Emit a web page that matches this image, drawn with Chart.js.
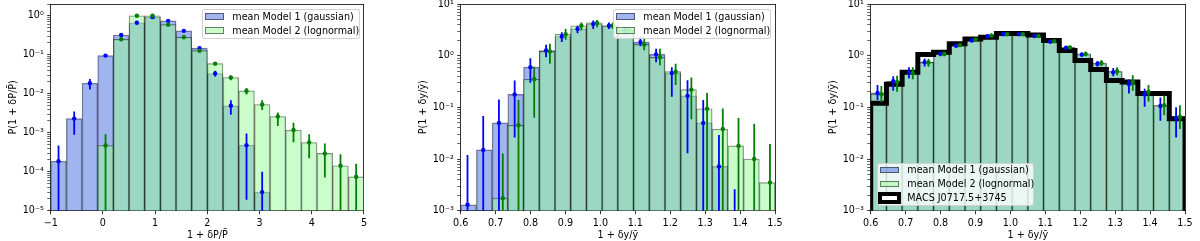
<!DOCTYPE html>
<html><head><meta charset="utf-8">
<script src="https://cdn.jsdelivr.net/npm/chart.js@4/dist/chart.umd.min.js"></script>
<style>
body{margin:0;background:#fff;width:1200px;height:241px;overflow:hidden;position:relative;font-family:'DejaVu Sans',sans-serif;}
canvas{position:absolute;left:0;top:0;}
.leg{position:absolute;background:rgba(255,255,255,0.8);border:1px solid rgba(204,204,204,0.9);border-radius:3px;box-sizing:border-box;}
.sw{position:absolute;box-sizing:border-box;border:1.5px solid rgba(0,0,0,0.5);}
.t{position:absolute;font-size:9.6px;line-height:14px;height:14px;white-space:nowrap;color:#000;}
</style></head><body>
<canvas id="k1" width="1200" height="241"></canvas>
<canvas id="k2" width="1200" height="241"></canvas>
<canvas id="k3" width="1200" height="241"></canvas>
<div id="legends"></div>
<script>
// ---------------- data ----------------
const BELOW = 1e-9; // lower end of an error bar that runs off the bottom of the axis

// Panel 1: 1 + dP/P
const p1Centers = [-0.85,-0.55,-0.25,0.05,0.35,0.65,0.95,1.25,1.55,1.85,2.15,2.45,2.75,3.05,3.35,3.65,3.95,4.25,4.55,4.85];
const p1Model1   = [1.85e-4,2.3e-3,0.0186,0.095,0.32,0.66,0.92,0.74,0.41,0.148,0.033,0.0049,4.8e-4,3.0e-5,null,null,null,null,null,null];
const p1Model1Lo = [BELOW,8.9e-4,0.0129,0.088,0.30,0.63,0.86,0.71,0.39,0.14,0.0275,2.9e-3,1.9e-5,BELOW,null,null,null,null,null,null];
const p1Model1Hi = [4.7e-4,3.5e-3,0.024,0.103,0.345,0.70,0.95,0.78,0.43,0.156,0.039,6.8e-3,9.5e-4,1.0e-4,null,null,null,null,null,null];
const p1Model2   = [null,null,null,4.7e-4,0.25,1.0,1.0,0.59,0.28,0.127,0.059,0.026,0.0118,0.0053,0.0026,0.00117,5.6e-4,2.95e-4,1.42e-4,7.4e-5];
const p1Model2Lo = [null,null,null,BELOW,0.235,0.95,0.95,0.57,0.27,0.122,0.055,0.022,0.0095,3.8e-3,1.48e-3,5.7e-4,2.2e-4,7.1e-5,BELOW,BELOW];
const p1Model2Hi = [null,null,null,9.2e-4,0.265,1.05,1.05,0.61,0.29,0.132,0.063,0.029,0.0141,6.8e-3,3.3e-3,1.8e-3,9.1e-4,5.3e-4,2.8e-4,1.6e-4];
const p1XTicks = [-1,0,1,2,3,4,5];

// Panel 2: 1 + dy/y (models)
const p2Centers = [0.6225,0.6675,0.7125,0.7575,0.8025,0.8475,0.8925,0.9375,0.9825,1.0275,1.0725,1.1175,1.1625,1.2075,1.2525,1.2975,1.3425,1.3875,1.4325,1.4775];
const p2Model1   = [1.3e-3,0.015,0.05,0.178,0.6,1.26,2.35,3.3,4.1,3.8,3.1,1.83,1.06,0.46,0.167,0.05,7.2e-3,null,null,null];
const p2Model1Lo = [BELOW,BELOW,BELOW,0.026,0.30,0.93,1.83,2.72,3.3,3.3,2.6,1.53,0.75,0.16,0.013,BELOW,BELOW,BELOW,null,null];
const p2Model1Hi = [0.012,0.068,0.142,0.33,0.89,1.63,2.85,3.8,4.8,4.4,3.6,2.28,1.36,0.60,0.335,0.138,0.0293,2.6e-3,null,null];
const p2Model2   = [null,null,1.75e-3,0.045,0.35,1.21,2.6,3.8,4.3,3.8,3.1,1.65,0.93,0.49,0.22,0.094,0.038,0.018,0.01,3.5e-3];
const p2Model2Lo = [null,null,BELOW,BELOW,0.063,0.70,2.03,3.06,3.55,3.3,2.6,1.27,0.65,0.27,0.059,BELOW,BELOW,BELOW,BELOW,BELOW];
const p2Model2Hi = [null,null,0.0128,0.138,0.61,1.7,3.3,4.4,4.9,4.4,3.6,2.2,1.36,0.70,0.38,0.19,0.095,0.062,0.048,0.0196];

// Panel 3: 1 + dy/y (models vs MACS J0717.5+3745)
const p3Centers = p2Centers;
const p3Edges = [0.6,0.645,0.69,0.735,0.78,0.825,0.87,0.915,0.96,1.005,1.05,1.095,1.14,1.185,1.23,1.275,1.32,1.365,1.41,1.455,1.5];
const p3Model1   = [0.19,0.32,0.47,0.75,1.09,1.56,1.97,2.38,2.6,2.6,2.4,1.86,1.42,1.05,0.70,0.48,0.28,0.178,0.106,0.062];
const p3Model1Lo = [0.138,0.21,0.36,0.62,0.98,1.45,1.88,2.28,2.5,2.5,2.28,1.75,1.32,0.95,0.62,0.40,0.186,0.103,0.055,0.026];
const p3Model1Hi = [0.27,0.40,0.60,0.88,1.2,1.68,2.07,2.48,2.7,2.7,2.52,1.97,1.52,1.15,0.79,0.58,0.345,0.23,0.155,0.10];
const p3Model2   = [0.18,0.31,0.46,0.74,1.08,1.6,2.05,2.45,2.6,2.6,2.4,1.9,1.45,1.08,0.72,0.5,0.31,0.2,0.11,0.066];
const p3Model2Lo = [0.125,0.2,0.35,0.61,0.97,1.48,1.95,2.34,2.5,2.5,2.28,1.78,1.34,0.97,0.63,0.42,0.21,0.13,0.07,0.038];
const p3Model2Hi = [0.26,0.41,0.6,0.87,1.19,1.72,2.15,2.56,2.7,2.7,2.52,2.02,1.56,1.19,0.82,0.6,0.42,0.27,0.17,0.11];
const p3Macs     = [0.12,0.28,0.48,1.05,1.17,1.70,2.1,2.28,2.7,2.7,2.5,1.97,1.26,0.81,0.54,0.33,0.31,0.186,0.186,0.06];
const yXTicks = [0.6,0.7,0.8,0.9,1.0,1.1,1.2,1.3,1.4,1.5];

const label1 = 'mean Model 1 (gaussian)';
const label2 = 'mean Model 2 (lognormal)';
const label3 = 'MACS J0717.5+3745';

// ---------------- styles ----------------
const BLUE_FILL = 'rgba(65,105,225,0.5)';
const GREEN_FILL = 'rgba(152,251,152,0.5)';
const EDGE = 'rgba(0,0,0,0.5)';
const FONT_SIZE = 9.6;
const Y_AXIS_W = 50, X_AXIS_H = 30.3, PLOT_TOP = 3.5;

Chart.defaults.font.family = "'DejaVu Sans'";
Chart.defaults.font.size = FONT_SIZE;
Chart.defaults.color = '#000';

const SUP = {'-':'\u207B','0':'\u2070','1':'\u00B9','2':'\u00B2','3':'\u00B3','4':'\u2074','5':'\u2075','6':'\u2076','7':'\u2077','8':'\u2078','9':'\u2079'};
const decadeLabel = v => { const e = Math.round(Math.log10(v)); return '10' + String(e).split('').map(c=>SUP[c]).join(''); };
function logTicks(min, max){
  const out = [];
  for (let e = Math.floor(Math.log10(min)); e <= Math.ceil(Math.log10(max)); e++)
    for (let m = 1; m <= 9; m++){ const v = m*Math.pow(10,e); if (v >= min*(1-1e-9) && v <= max*(1+1e-9)) out.push({value:v, major:m===1}); }
  return out;
}
const barData = (xs, ys) => xs.map((x,i)=>({x, y: ys[i]}));
const ptData = (xs, ys, dx) => xs.map((x,i)=>({x:x+dx, y: ys[i]})).filter(p=>p.y!=null);
function errData(xs, lo, hi, dx){
  const out = [];
  xs.forEach((x,i)=>{ if (lo[i]==null || hi[i]==null) return; out.push({x:x+dx,y:lo[i]},{x:x+dx,y:hi[i]},{x:x+dx,y:null}); });
  return out;
}
function stepData(edges, vals){
  const out = [{x:edges[0], y:BELOW}];
  vals.forEach((v,i)=>{ out.push({x:edges[i],y:v},{x:edges[i+1],y:v}); });
  out.push({x:edges[edges.length-1], y:BELOW});
  return out;
}
function barSet(xs, ys, fill, order){
  return {type:'bar', data:barData(xs,ys), backgroundColor:fill, borderColor:EDGE, borderWidth:0.75,
          borderSkipped:'start', grouped:false, barPercentage:1, categoryPercentage:1, order};
}
function errSet(xs, lo, hi, dx, color, order){
  return {type:'line', data:errData(xs,lo,hi,dx), borderColor:color, borderWidth:1.8, pointRadius:0,
          spanGaps:false, clip:0, order};
}
function ptSet(xs, ys, dx, color, order){
  return {type:'line', data:ptData(xs,ys,dx), showLine:false, pointRadius:2.2, pointBorderWidth:0,
          pointBackgroundColor:color, clip:0, order};
}

function makeChart(id, o){
  const gridOpt = {display:true, drawOnChartArea:false, offset:false, tickLength:3.5, tickColor:'#000',
                   tickWidth: c => (c.tick && c.tick.major === false) ? 0.6 : 0.8};
  const hidden = (pos, min, max, type) => ({type, position:pos, min, max, z:1,
      grid:{display:true, drawOnChartArea:false, drawTicks:false}, ticks:{display:false},
      border:{display:true, color:'#000', width:0.8},
      afterFit: s => { if (pos==='top') s.height = 0; else s.width = 0; s.paddingLeft=0; s.paddingRight=0; s.paddingTop=0; s.paddingBottom=0; }});
  return new Chart(document.getElementById(id), {
    type:'bar',
    data:{datasets:o.datasets},
    options:{
      responsive:false, animation:false, events:[], devicePixelRatio:1,
      layout:{padding:{left:o.plotLeft - Y_AXIS_W, right:1200 - o.plotRight, top:PLOT_TOP, bottom:0}},
      plugins:{legend:{display:false}, tooltip:{enabled:false}},
      scales:{
        x:{type:'linear', position:'bottom', min:o.xMin, max:o.xMax, offset:false, z:1, grid:gridOpt,
           border:{display:true, color:'#000', width:0.8},
           ticks:{autoSkip:false, maxRotation:0, padding:3.4, callback:o.xFmt},
           afterBuildTicks: s => { s.ticks = o.xTicks.map(v=>({value:v})); },
           afterFit: s => { s.height = X_AXIS_H; s.paddingLeft = 0; s.paddingRight = 0; },
           title:{display:true, text:o.xTitle, padding:{top:0,bottom:0}}},
        y:{type:'logarithmic', position:'left', min:o.yMin, max:o.yMax, z:1, grid:gridOpt,
           border:{display:true, color:'#000', width:0.8},
           ticks:{autoSkip:false, padding:3.4, callback:(v,i,t)=> t[i] && t[i].major ? decadeLabel(v) : ''},
           afterBuildTicks: s => { s.ticks = logTicks(o.yMin, o.yMax); },
           afterFit: s => { s.width = Y_AXIS_W; s.paddingTop = 0; s.paddingBottom = 0; },
           title:{display:true, text:o.yTitle, padding:{top:6.7,bottom:0}}},
        x2: hidden('top', o.xMin, o.xMax, 'linear'),
        y2: hidden('right', 0, 1, 'linear')
      }
    }
  });
}

const fmtInt = v => (v < 0 ? '\u2212' + Math.abs(v) : String(v));
const fmt1 = v => v.toFixed(1);
const DX_B = -0.003, DX_G = 0.008;

makeChart('k1', {
  plotLeft:50.7, plotRight:364, xMin:-1, xMax:5, yMin:1e-5, yMax:2, xTicks:p1XTicks, xFmt:fmtInt,
  xTitle:'1 + \u03B4P/P\u0304', yTitle:'P(1 + \u03B4P/P\u0304)',
  datasets:[
    barSet(p1Centers, p1Model1, BLUE_FILL, 6),
    barSet(p1Centers, p1Model2, GREEN_FILL, 5),
    errSet(p1Centers, p1Model1Lo, p1Model1Hi, 0, '#0000ff', 3),
    ptSet(p1Centers, p1Model1, 0, '#0000ff', 3),
    errSet(p1Centers, p1Model2Lo, p1Model2Hi, 0, '#008000', 1),
    ptSet(p1Centers, p1Model2, 0, '#008000', 1)
  ]
});
makeChart('k2', {
  plotLeft:460.7, plotRight:775, xMin:0.6, xMax:1.5, yMin:1e-3, yMax:10, xTicks:yXTicks, xFmt:fmt1,
  xTitle:'1 + \u03B4y/\u0233', yTitle:'P(1 + \u03B4y/\u0233)',
  datasets:[
    barSet(p2Centers, p2Model1, BLUE_FILL, 6),
    barSet(p2Centers, p2Model2, GREEN_FILL, 5),
    errSet(p2Centers, p2Model1Lo, p2Model1Hi, DX_B, '#0000ff', 3),
    ptSet(p2Centers, p2Model1, DX_B, '#0000ff', 3),
    errSet(p2Centers, p2Model2Lo, p2Model2Hi, DX_G, '#008000', 1),
    ptSet(p2Centers, p2Model2, DX_G, '#008000', 1)
  ]
});
makeChart('k3', {
  plotLeft:870.7, plotRight:1185, xMin:0.6, xMax:1.5, yMin:1e-3, yMax:10, xTicks:yXTicks, xFmt:fmt1,
  xTitle:'1 + \u03B4y/\u0233', yTitle:'P(1 + \u03B4y/\u0233)',
  datasets:[
    barSet(p3Centers, p3Model1, BLUE_FILL, 6),
    barSet(p3Centers, p3Model2, GREEN_FILL, 5),
    {type:'line', data:stepData(p3Edges, p3Macs), borderColor:'#000', borderWidth:5, borderJoinStyle:'miter',
     pointRadius:0, tension:0, clip:0, order:4},
    errSet(p3Centers, p3Model1Lo, p3Model1Hi, DX_B, '#0000ff', 3),
    ptSet(p3Centers, p3Model1, DX_B, '#0000ff', 3),
    errSet(p3Centers, p3Model2Lo, p3Model2Hi, DX_G, '#008000', 1),
    ptSet(p3Centers, p3Model2, DX_G, '#008000', 1)
  ]
});

// ---------------- legends (HTML overlay) ----------------
function legend(left, top, width, rows){
  const box = document.createElement('div');
  box.className = 'leg';
  box.style.left = left+'px'; box.style.top = top+'px'; box.style.width = width+'px';
  box.style.height = (rows.length*14 + 1.5)+'px';
  rows.forEach((r,i)=>{
    const cy = 6.3 + 14*i;
    const sw = document.createElement('div');
    sw.className = 'sw';
    if (r.step){
      sw.style.left = '-0.2px'; sw.style.top = (cy-5.6)+'px'; sw.style.width='23.6px'; sw.style.height='11.2px';
      sw.style.border = '4.6px solid #000'; sw.style.background = '#fff';
    } else {
      sw.style.left = '2.3px'; sw.style.top = (cy-3.4)+'px'; sw.style.width='19.3px'; sw.style.height='6.8px';
      sw.style.background = r.fill;
    }
    const t = document.createElement('div');
    t.className = 't'; t.textContent = r.text;
    t.style.left = '29.6px'; t.style.top = (cy-7)+'px';
    box.appendChild(sw); box.appendChild(t);
  });
  document.getElementById('legends').appendChild(box);
}
legend(201.7, 9.3, 158.3, [{fill:BLUE_FILL,text:label1},{fill:GREEN_FILL,text:label2}]);
legend(612.7, 9.3, 158.3, [{fill:BLUE_FILL,text:label1},{fill:GREEN_FILL,text:label2}]);
legend(876.7, 162.7, 157.3, [{fill:BLUE_FILL,text:label1},{fill:GREEN_FILL,text:label2},{step:true,text:label3}]);
</script>
</body></html>
